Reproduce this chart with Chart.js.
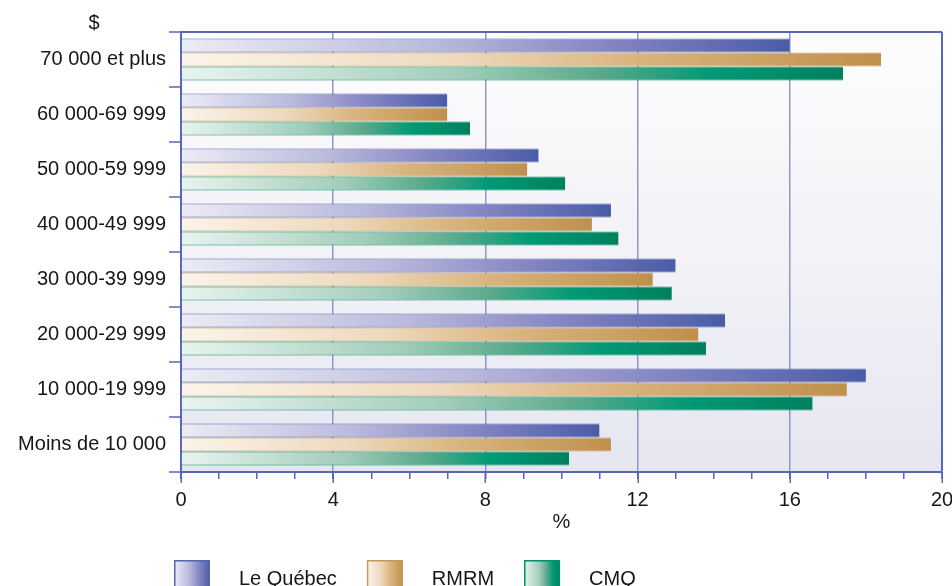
<!DOCTYPE html>
<html lang="fr">
<head>
<meta charset="utf-8">
<title>Revenu des ménages</title>
<script src="https://cdn.jsdelivr.net/npm/chart.js@4/dist/chart.umd.min.js"></script>
<style>
  html, body { margin: 0; padding: 0; background: #ffffff; }
  canvas { display: block; }
</style>
</head>
<body>
<canvas id="chart" width="952" height="586"></canvas>
<script>
// Income brackets ($), top to bottom
const categories = [
  '70 000 et plus',
  '60 000-69 999',
  '50 000-59 999',
  '40 000-49 999',
  '30 000-39 999',
  '20 000-29 999',
  '10 000-19 999',
  'Moins de 10 000'
];

// Share of households in each bracket (%)
const quebec = [16.0, 7.0, 9.4, 11.3, 13.0, 14.3, 18.0, 11.0];
const rmrm   = [18.4, 7.0, 9.1, 10.8, 12.4, 13.6, 17.5, 11.3];
const cmq    = [17.4, 7.6, 10.1, 11.5, 12.9, 13.8, 16.6, 10.2];

const seriesNames = ['Le Québec', 'RMRM', 'CMQ'];

// x axis: 0–20 %, labelled every 4, minor ticks every 1
const xMin = 0, xMax = 20, xMajorStep = 4;

const FONT = '"Liberation Sans", Arial, Helvetica, sans-serif';
const AXIS = '#5767b1';
const GRID = '#8f97c9';
const TEXT = '#161616';

// Colour ramps (light at the base, dark at the bar end)
const ramps = [
  { border: '#5566ac', stops: [[0, '#ececf6'], [0.42, '#b9b9dc'], [0.7, '#8585c3'], [1, '#4a5ca7']] },
  { border: '#c49a5c', stops: [[0, '#fbf4ea'], [0.4, '#edd8bc'], [0.65, '#d9b47f'], [1, '#bf904c']] },
  { border: '#00906a', stops: [[0, '#e9f4ef'], [0.42, '#a2cdba'], [0.63, '#5ba98c'], [0.8, '#009a76'], [1, '#00805e']] }
];

function rampFill(ramp) {
  const last = ramp.stops[ramp.stops.length - 1][1];
  return (ctx) => {
    const chart = ctx.chart;
    const xs = chart.scales && chart.scales.x;
    if (!xs || ctx.type !== 'data') return last;
    const x0 = xs.getPixelForValue(0);
    const x1 = xs.getPixelForValue(ctx.raw);
    if (!isFinite(x0) || !isFinite(x1) || x1 - x0 < 1) return last;
    const g = chart.ctx.createLinearGradient(x0, 0, x1, 0);
    ramp.stops.forEach(([o, c]) => g.addColorStop(o, c));
    return g;
  };
}

function makeDataset(label, data, ramp) {
  return {
    label,
    data,
    backgroundColor: rampFill(ramp),
    borderColor: ramp.border,
    borderWidth: { top: 1, bottom: 1, left: 0, right: 0 },
    borderSkipped: 'start',
    categoryPercentage: 0.764,
    barPercentage: 1
  };
}

// Soft vertical wash behind the plot
const plotBackground = {
  id: 'plotBackground',
  beforeDraw(chart) {
    const { ctx, chartArea: a } = chart;
    const g = ctx.createLinearGradient(0, a.top, 0, a.bottom);
    g.addColorStop(0, '#fdfdfd');
    g.addColorStop(0.5, '#f2f2f7');
    g.addColorStop(1, '#e6e6f1');
    ctx.save();
    ctx.fillStyle = g;
    ctx.fillRect(a.left, a.top, a.right - a.left, a.bottom - a.top);
    ctx.restore();
  }
};

// Longer marks at the labelled x ticks, the "$" unit and the legend row
const decorations = {
  id: 'decorations',
  afterDraw(chart) {
    const { ctx, chartArea: a } = chart;
    const xs = chart.scales.x;
    ctx.save();
    ctx.strokeStyle = AXIS;
    ctx.lineWidth = 1.5;
    for (let v = xMin; v <= xMax; v += xMajorStep) {
      const px = Math.round(xs.getPixelForValue(v)) + 0.25;
      ctx.beginPath();
      ctx.moveTo(px, a.bottom);
      ctx.lineTo(px, a.bottom + 11);
      ctx.stroke();
    }

    ctx.fillStyle = TEXT;
    ctx.font = '20px ' + FONT;
    ctx.textAlign = 'center';
    ctx.textBaseline = 'middle';
    ctx.fillText('$', 94, 23);

    // legend
    let x = 174;
    const top = 560, boxW = 36, boxH = 34;
    ctx.textAlign = 'left';
    ctx.textBaseline = 'alphabetic';
    chart.data.datasets.forEach((ds, i) => {
      const ramp = ramps[i];
      const g = ctx.createLinearGradient(x, 0, x + boxW, 0);
      ramp.stops.forEach(([o, c]) => g.addColorStop(o, c));
      ctx.fillStyle = g;
      ctx.fillRect(x, top, boxW, boxH);
      ctx.strokeStyle = ramp.border;
      ctx.lineWidth = 1.5;
      ctx.strokeRect(x + 0.75, top + 0.75, boxW - 1.5, boxH - 1.5);
      ctx.fillStyle = TEXT;
      const tx = x + 65;
      ctx.fillText(ds.label, tx, 585);
      x = tx + ctx.measureText(ds.label).width + 30;
    });
    ctx.restore();
  }
};

new Chart(document.getElementById('chart'), {
  type: 'bar',
  data: {
    labels: categories,
    datasets: [
      makeDataset(seriesNames[0], quebec, ramps[0]),
      makeDataset(seriesNames[1], rmrm, ramps[1]),
      makeDataset(seriesNames[2], cmq, ramps[2])
    ]
  },
  options: {
    indexAxis: 'y',
    responsive: false,
    devicePixelRatio: 1,
    animation: false,
    layout: { padding: { top: 32, right: 10, bottom: 0, left: 0 } },
    plugins: {
      legend: { display: false },
      tooltip: { enabled: false }
    },
    scales: {
      x: {
        type: 'linear',
        min: xMin,
        max: xMax,
        afterFit(scale) {
          scale.height = 114;
          scale.paddingLeft = 0;
          scale.paddingRight = 0;
        },
        ticks: {
          stepSize: 1,
          autoSkip: false,
          maxRotation: 0,
          padding: 9,
          color: TEXT,
          font: { family: FONT, size: 20 },
          callback: (v) => (v % xMajorStep === 0 ? String(v) : '')
        },
        grid: {
          drawOnChartArea: true,
          drawTicks: true,
          tickLength: 7,
          tickWidth: 1.5,
          tickColor: AXIS,
          color: (ctx) => {
            const v = ctx.tick && ctx.tick.value;
            if (v === xMax) return AXIS;
            if (v !== xMin && v % xMajorStep === 0) return GRID;
            return 'rgba(0,0,0,0)';
          },
          lineWidth: (ctx) => (ctx.tick && ctx.tick.value === xMax ? 2 : 1.5)
        },
        border: { display: true, color: AXIS, width: 2 },
        title: {
          display: true,
          text: '%',
          color: TEXT,
          font: { family: FONT, size: 20 },
          padding: { top: 0, bottom: 52 }
        }
      },
      y: {
        type: 'category',
        afterFit(scale) {
          scale.width = 181;
        },
        ticks: {
          padding: 3,
          color: TEXT,
          font: { family: FONT, size: 20 }
        },
        grid: {
          offset: true,
          drawOnChartArea: true,
          drawTicks: true,
          tickLength: 12,
          tickWidth: 1.5,
          tickColor: AXIS,
          color: (ctx) => (ctx.index === 0 ? AXIS : 'rgba(0,0,0,0)'),
          lineWidth: 2
        },
        border: { display: true, color: AXIS, width: 2 }
      }
    }
  },
  plugins: [plotBackground, decorations]
});
</script>
</body>
</html>
